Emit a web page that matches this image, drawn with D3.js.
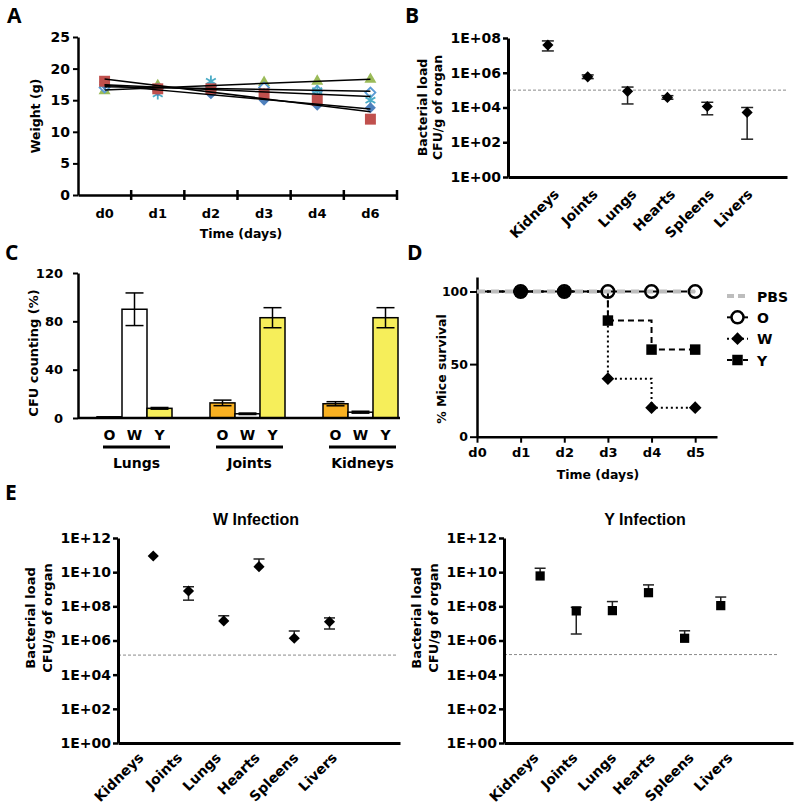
<!DOCTYPE html>
<html><head><meta charset="utf-8">
<script src="https://cdn.jsdelivr.net/npm/d3@7/dist/d3.min.js"></script>
<style>
html,body{margin:0;padding:0;background:#fff;}
svg{display:block;}
</style></head><body>
<svg id="fig" width="800" height="808"></svg>
<script>
// ================= DATA =================
// Panel A – body weight of five mice
const daysA = ["d0","d1","d2","d3","d4","d6"];
const weightTicks = [0,5,10,15,20,25];
const weightM1 = [17.5,16.5,16.0,15.0,14.2,13.8];
const weightM2 = [18.0,16.8,16.8,16.0,15.0,12.0];
const weightM3 = [16.5,17.3,17.0,17.8,18.0,18.3];
const weightM4 = [17.5,16.0,18.0,16.0,16.5,15.0];
const weightM5 = [17.0,16.8,17.2,17.0,16.5,16.2];

// Panel B – bacterial load per organ
const organs = ["Kidneys","Joints","Lungs","Hearts","Spleens","Livers"];
const loadB   = [3.9e7,5.8e5,8.5e4,3.8e4,1.15e4,5.2e3];
const loadBHi = [6.8e7,7.5e5,1.5e5,4.8e4,2.0e4,1.0e4];
const loadBLo = [1.8e7,4.6e5,1.6e4,3.0e4,3.8e3,1.5e2];
const limitB = 1e5;
const logTicksB = [1,1e2,1e4,1e6,1e8];

// Panel C – CFU counting (%)
const tissues = ["Lungs","Joints","Kidneys"];
const colonies = ["O","W","Y"];
const cfuO = [1.0,12.5,11.8];
const cfuOErr = [0.3,2.3,1.7];
const cfuW = [90,3.5,4.8];
const cfuWErr = [13.5,0.6,0.8];
const cfuY = [8.0,83,83];
const cfuYErr = [0.7,8.3,8.3];
const cfuTicks = [0,40,80,120];

// Panel D – survival
const daysD = ["d0","d1","d2","d3","d4","d5"];
const survPBS = [100,100,100,100,100,100];
const survO = [100,100,100,100,100,100];
const survW = [100,100,100,40,20,20];
const survY = [100,100,100,80,60,60];
const survTicks = [0,50,100];
const survGroups = ["PBS","O","W","Y"];

// Panel E – bacterial load after W / Y infection
const loadW   = [8.9e10,7.9e8,1.4e7,2.1e10,1.35e6,1.26e7];
const loadWHi = [8.9e10,1.4e9,2.8e7,5.9e10,3.6e6,2.1e7];
const loadWLo = [8.9e10,2.3e8,1.4e7,2.1e10,1.35e6,4.7e6];
const limitW = 1.4e5;
const loadY   = [6.0e9,5.4e7,5.6e7,6.3e8,1.35e6,1.1e8];
const loadYHi = [1.7e10,8.7e7,1.9e8,1.8e9,3.7e6,3.5e8];
const loadYLo = [6.0e9,2.4e6,5.6e7,6.3e8,1.35e6,1.1e8];
const limitY = 1.5e5;
const logTicksE = [1,1e2,1e4,1e6,1e8,1e10,1e12];

// ================= HELPERS =================
const svg = d3.select("#fig");
const FONT = "'DejaVu Sans', sans-serif";
const ARIAL = "'Liberation Sans', Arial, sans-serif";
const fmtE = d => "1E+" + String(Math.round(Math.log10(d))).padStart(2,"0");

function styleAxis(g, size, width) {
  g.attr("font-family", FONT).attr("font-size", size).attr("font-weight","bold");
  g.selectAll("text").attr("fill","#000");
  g.selectAll(".tick line").attr("stroke","#000").attr("stroke-width", Math.max(1.5, width-0.5));
  g.select(".domain").attr("stroke","#000").attr("stroke-width", width);
  return g;
}
function letter(s,x,y){
  svg.append("text").attr("x",x).attr("y",y).text(s)
    .attr("font-family","'Open Sans', sans-serif").attr("font-weight","bold").attr("font-size",21).attr("fill","#000");
}
function label(g, s, x, y, size, anchor, rot, fam) {
  return g.append("text").attr("transform",`translate(${x},${y}) rotate(${rot||0})`)
    .attr("text-anchor", anchor||"middle").attr("font-family", fam||FONT)
    .attr("font-weight","bold").attr("font-size",size).attr("fill","#000").text(s);
}
function errBar(g, x, yv, yhi, ylo, cap, color) {
  const c = color || "#222";
  if (Math.abs(yhi - ylo) < 0.5) return;
  g.append("line").attr("x1",x).attr("x2",x).attr("y1",yhi).attr("y2",ylo).attr("stroke",c).attr("stroke-width",1.5);
  if (yv - yhi > 0.5) g.append("line").attr("x1",x-cap/2).attr("x2",x+cap/2).attr("y1",yhi).attr("y2",yhi).attr("stroke",c).attr("stroke-width",1.5);
  if (ylo - yv > 0.5) g.append("line").attr("x1",x-cap/2).attr("x2",x+cap/2).attr("y1",ylo).attr("y2",ylo).attr("stroke",c).attr("stroke-width",1.5);
}
const symAsterisk = d3.symbolAsterisk || d3.symbolCross;

// ================= PANEL A =================
letter("A",7,23);
const gA = svg.append("g");
const xA = d3.scaleBand().domain(daysA).range([78,397]);
const yA = d3.scaleLinear().domain([0,25]).range([195,37]);
styleAxis(gA.append("g").attr("transform","translate(78,0)")
  .call(d3.axisLeft(yA).tickValues(weightTicks).tickSize(5).tickSizeOuter(0).tickPadding(3)), 14, 2.5);
styleAxis(gA.append("g").attr("transform","translate(0,195)")
  .call(d3.axisBottom(xA).tickSize(0).tickSizeOuter(0).tickPadding(14)), 13, 2.5);
const edgesA = daysA.map(d => xA(d)).concat([xA.range()[1]]);
gA.selectAll(".edge").data(edgesA.slice(1)).join("line")
  .attr("x1",d=>d).attr("x2",d=>d).attr("y1",190).attr("y2",200).attr("stroke","#000").attr("stroke-width",2.5);
label(gA,"Weight (g)",40,116,12.5,"middle",-90);
label(gA,"Time (days)",241,238,12.5,"middle",0);

const seriesA = [
  {v:weightM3, sym:d3.symbolTriangle, size:62, rot:0,  fill:"#9BBB59", stroke:"none"},
  {v:weightM5, sym:d3.symbolSquare,   size:50, rot:45, fill:"#fff",    stroke:"#5B9BD5"},
  {v:weightM4, sym:symAsterisk,       size:90, rot:0,  fill:"none",    stroke:"#4BACC6"},
  {v:weightM1, sym:d3.symbolSquare,   size:60, rot:45, fill:"#4F81BD", stroke:"none"},
  {v:weightM2, sym:d3.symbolSquare,   size:120,rot:0,  fill:"#C0504D", stroke:"none"}
];
const cxA = d => xA(d) + xA.bandwidth()/2;
seriesA.forEach(s => {
  gA.selectAll(null).data(s.v).join("path")
    .attr("d", d3.symbol(s.sym, s.size))
    .attr("transform",(v,i)=>`translate(${cxA(daysA[i])},${yA(v)}) rotate(${s.rot})`)
    .attr("fill", s.fill).attr("stroke", s.stroke).attr("stroke-width", 1.8);
});
// linear trend lines (least squares over category index)
seriesA.forEach(s => {
  const n = s.v.length, xs = d3.range(n);
  const mx = d3.mean(xs), my = d3.mean(s.v);
  const b = d3.sum(xs, i => (i-mx)*(s.v[i]-my)) / d3.sum(xs, i => (i-mx)*(i-mx));
  const a = my - b*mx;
  gA.append("line")
    .attr("x1", cxA(daysA[0])).attr("y1", yA(a))
    .attr("x2", cxA(daysA[n-1])).attr("y2", yA(a + b*(n-1)))
    .attr("stroke","#000").attr("stroke-width",1.5);
});

// ================= PANEL B =================
letter("B",405,23);
const gB = svg.append("g");
const xB = d3.scaleLinear().domain([0,7]).range([508,787]);
const yB = d3.scaleLog().domain([1,1e8]).range([177,38]);
const xLabB = d3.scaleLinear().domain([1,6]).range([560,753.5]);
gB.append("line").attr("x1",xB(0)).attr("x2",xB(7)).attr("y1",yB(limitB)).attr("y2",yB(limitB))
  .attr("stroke","#8a8a8a").attr("stroke-width",1).attr("stroke-dasharray","3,2");
styleAxis(gB.append("g").attr("transform","translate(508,0)")
  .call(d3.axisLeft(yB).tickValues(logTicksB).tickFormat(fmtE).tickSize(5).tickSizeOuter(0).tickPadding(2)), 14, 3);
styleAxis(gB.append("g").attr("transform","translate(0,177)")
  .call(d3.axisBottom(xB).tickValues([]).tickSizeOuter(0)), 14, 3);
organs.forEach((o,i) => {
  errBar(gB, xB(i+1), yB(loadB[i]), yB(loadBHi[i]), yB(loadBLo[i]), 12);
});
gB.selectAll(".mk").data(loadB).join("path")
  .attr("d", d3.symbol(d3.symbolSquare, 62))
  .attr("transform",(v,i)=>`translate(${xB(i+1)},${yB(v)}) rotate(45)`).attr("fill","#000");
organs.forEach((o,i) => label(gB, o, xLabB(i+1), 195, 14, "end", -45));
label(gB,"Bacterial load",427,107.5,12.5,"middle",-90);
label(gB,"CFU/g of organ",442,107.5,12.5,"middle",-90);

// ================= PANEL C =================
letter("C",5,260);
const gC = svg.append("g");
const xC = d3.scaleBand().domain(tissues).range([78,417]).paddingInner(38/113).paddingOuter(19/113);
const xC2 = d3.scaleBand().domain(colonies).range([0, xC.bandwidth()]);
const yC = d3.scaleLinear().domain([0,120]).range([418,273]);
const cfuVals = {O:cfuO, W:cfuW, Y:cfuY};
const cfuErrs = {O:cfuOErr, W:cfuWErr, Y:cfuYErr};
const cfuFill = {O:"#F9B122", W:"#ffffff", Y:"#F6EE5A"};
tissues.forEach((t,ti) => {
  colonies.forEach(c => {
    const x0 = xC(t) + xC2(c), v = cfuVals[c][ti], e = cfuErrs[c][ti];
    gC.append("rect").attr("x",x0).attr("y",yC(v)).attr("width",xC2.bandwidth()).attr("height",yC(0)-yC(v))
      .attr("fill",cfuFill[c]).attr("stroke","#000").attr("stroke-width",1.5);
    errBar(gC, x0 + xC2.bandwidth()/2, yC(v), yC(v+e), yC(v-e), 18, "#000");
    label(gC, c, x0 + xC2.bandwidth()/2, 440, 14, "middle", 0);
  });
  gC.append("line").attr("x1",xC(t)+6).attr("x2",xC(t)+xC.bandwidth()-2).attr("y1",447).attr("y2",447)
    .attr("stroke","#000").attr("stroke-width",3);
  label(gC, t, xC(t)+xC.bandwidth()/2+2, 468, 14, "middle", 0);
});
styleAxis(gC.append("g").attr("transform","translate(78,0)")
  .call(d3.axisLeft(yC).tickValues(cfuTicks).tickSize(5).tickSizeOuter(0).tickPadding(10)), 13, 2.5);
gC.append("line").attr("x1",78).attr("x2",400).attr("y1",yC(0)).attr("y2",yC(0)).attr("stroke","#000").attr("stroke-width",2.5);
label(gC,"CFU counting (%)",38,353,13,"middle",-90);

// ================= PANEL D =================
letter("D",407,260);
const gD = svg.append("g");
const xD = d3.scaleLinear().domain([0,5.5]).range([477,717]);
const yD = d3.scaleLinear().domain([0,110]).range([436.7,277]);
styleAxis(gD.append("g").attr("transform","translate(477,0)")
  .call(d3.axisLeft(yD).tickValues(survTicks).tickSize(7).tickSizeOuter(0).tickPadding(2)), 12.5, 2.5);
styleAxis(gD.append("g").attr("transform",`translate(0,${yD(0)})`)
  .call(d3.axisBottom(xD).tickValues(d3.range(daysD.length)).tickFormat(i=>daysD[i]).tickSize(6).tickSizeOuter(0).tickPadding(5)), 13, 2.5);
label(gD,"% Mice survival",446,369,12.5,"middle",-90);
label(gD,"Time (days)",598,479,12.5,"middle",0);
const stepLine = d3.line().x((v,i)=>xD(i)).y(v=>yD(v)).curve(d3.curveStepAfter);
gD.append("path").attr("d",stepLine(survO)).attr("fill","none").attr("stroke","#000").attr("stroke-width",2);
gD.append("path").attr("d",stepLine(survY)).attr("fill","none").attr("stroke","#000").attr("stroke-width",2).attr("stroke-dasharray","6,4");
gD.append("path").attr("d",stepLine(survW)).attr("fill","none").attr("stroke","#000").attr("stroke-width",2).attr("stroke-dasharray","2,3");
gD.append("path").attr("d",stepLine(survPBS)).attr("fill","none").attr("stroke","#BDBDBD").attr("stroke-width",4).attr("stroke-dasharray","8,6");
const idxD = d3.range(1, daysD.length);
gD.selectAll(".mW").data(idxD).join("path").attr("d", d3.symbol(d3.symbolSquare, 80))
  .attr("transform", i=>`translate(${xD(i)},${yD(survW[i])}) rotate(45)`).attr("fill","#000");
gD.selectAll(".mY").data(idxD).join("path").attr("d", d3.symbol(d3.symbolSquare, 110))
  .attr("transform", i=>`translate(${xD(i)},${yD(survY[i])})`).attr("fill","#000");
gD.selectAll(".mO").data(idxD).join("circle").attr("cx", i=>xD(i)).attr("cy", i=>yD(survO[i])).attr("r",6.3)
  .attr("fill","none").attr("stroke","#000").attr("stroke-width",2.5);
// legend
const legY = d3.scalePoint().domain(survGroups).range([296,360]);
const lgx0 = 727, lgx1 = 748, lgm = 737.5, lgt = 757;
gD.append("line").attr("x1",lgx0).attr("x2",lgx1).attr("y1",legY("PBS")).attr("y2",legY("PBS")).attr("stroke","#BDBDBD").attr("stroke-width",4).attr("stroke-dasharray","7,4");
gD.append("line").attr("x1",lgx0).attr("x2",lgx1).attr("y1",legY("O")).attr("y2",legY("O")).attr("stroke","#000").attr("stroke-width",2);
gD.append("circle").attr("cx",lgm).attr("cy",legY("O")).attr("r",6).attr("fill","#fff").attr("stroke","#000").attr("stroke-width",2.5);
gD.append("line").attr("x1",lgx0).attr("x2",lgx1).attr("y1",legY("W")).attr("y2",legY("W")).attr("stroke","#000").attr("stroke-width",2).attr("stroke-dasharray","2,3");
gD.append("path").attr("d",d3.symbol(d3.symbolSquare,80)).attr("transform",`translate(${lgm},${legY("W")}) rotate(45)`).attr("fill","#000");
gD.append("line").attr("x1",lgx0).attr("x2",lgx1).attr("y1",legY("Y")).attr("y2",legY("Y")).attr("stroke","#000").attr("stroke-width",2).attr("stroke-dasharray","5,3");
gD.append("path").attr("d",d3.symbol(d3.symbolSquare,110)).attr("transform",`translate(${lgm},${legY("Y")})`).attr("fill","#000");
survGroups.forEach(s => label(gD, s, lgt, legY(s)+5.5, 14, "start", 0));

// ================= PANEL E =================
letter("E",5,500);
function drawLoad(opt) {
  const g = svg.append("g");
  const x = d3.scaleLinear().domain([0,8]).range([opt.x0, opt.x1]);
  const y = d3.scaleLog().domain([1,1e12]).range([743,538]);
  const xl = d3.scaleLinear().domain([1,6]).range(opt.lab);
  g.append("line").attr("x1",opt.x0).attr("x2",opt.dashEnd).attr("y1",y(opt.limit)).attr("y2",y(opt.limit))
    .attr("stroke","#8a8a8a").attr("stroke-width",1).attr("stroke-dasharray","3,2");
  styleAxis(g.append("g").attr("transform",`translate(${opt.x0},0)`)
    .call(d3.axisLeft(y).tickValues(logTicksE).tickFormat(fmtE).tickSize(5).tickSizeOuter(0).tickPadding(2)), 14, 3);
  styleAxis(g.append("g").attr("transform","translate(0,743)")
    .call(d3.axisBottom(x).tickValues([]).tickSizeOuter(0)), 14, 3);
  organs.forEach((o,i) => errBar(g, x(i+1), y(opt.v[i]), y(opt.hi[i]), y(opt.lo[i]), 11));
  g.selectAll(".mk").data(opt.v).join("path")
    .attr("d", d3.symbol(d3.symbolSquare, opt.square ? 85 : 62))
    .attr("transform",(v,i)=>`translate(${x(i+1)},${y(v)}) rotate(${opt.square?0:45})`).attr("fill","#000");
  organs.forEach((o,i) => label(g, o, xl(i+1), 758.5, 14, "end", -45));
  label(g, opt.title, opt.titleX, 525, 16, "middle", 0, ARIAL);
  label(g, "Bacterial load", opt.ylab, 618, 13, "middle", -90);
  label(g, "CFU/g of organ", opt.ylab+16.5, 618, 13, "middle", -90);
}
drawLoad({x0:118, x1:400, dashEnd:397, lab:[144.4,338], v:loadW, hi:loadWHi, lo:loadWLo, limit:limitW,
          square:false, title:"W Infection", titleX:256, ylab:35});
drawLoad({x0:504, x1:793, dashEnd:777, lab:[539.5,733.5], v:loadY, hi:loadYHi, lo:loadYLo, limit:limitY,
          square:true, title:"Y Infection", titleX:645, ylab:421});
</script>
</body></html>
